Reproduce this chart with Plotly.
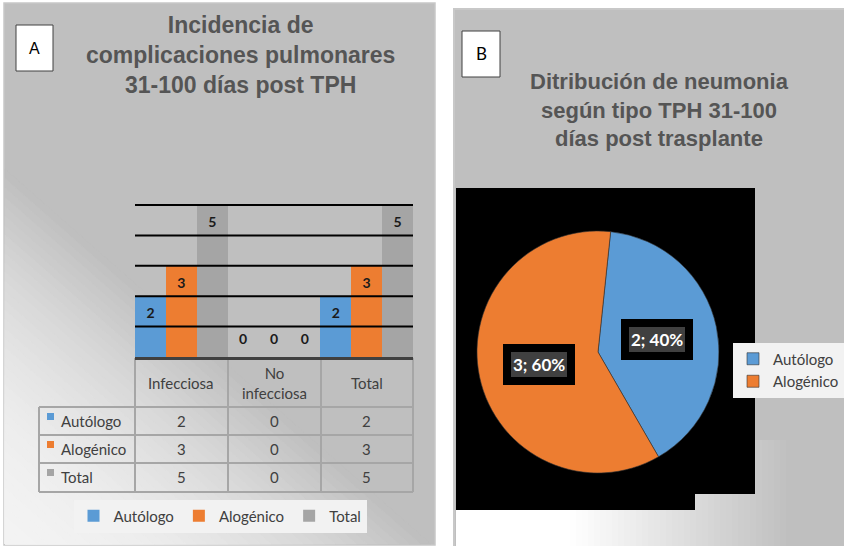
import math
import plotly.graph_objects as go

W, H = 844, 546

# --- Panel A: complicaciones pulmonares 31-100 días post TPH ---
categorias = ["Infecciosa", "No infecciosa", "Total"]
cat_tabla = ["Infecciosa", "No<br>infecciosa", "Total"]
series = ["Autólogo", "Alogénico", "Total"]
autologo = [2, 0, 2]
alogenico = [3, 0, 3]
total = [5, 0, 5]
colores = ["#5b9bd5", "#ed7d31", "#a5a5a5"]

# --- Panel B: neumonía según tipo de TPH ---
tipos_tph = ["Autólogo", "Alogénico"]
neumonia = [2, 3]
colores_pie = ["#5b9bd5", "#ed7d31"]

titulo_a = "Incidencia de<br>complicaciones pulmonares<br>31-100 días post TPH"
titulo_b = "Ditribución de neumonia<br>según tipo TPH 31-100<br>días post trasplante"

valores = [autologo, alogenico, total]


def px(x):
    return x / W


def py(y):
    return 1 - y / H


shapes = []
annotations = []


def rect(x0, y0, x1, y1, fill, line=None, lw=0):
    shapes.append(dict(type="rect", xref="paper", yref="paper", layer="below",
                       x0=px(x0), x1=px(x1), y0=py(y1), y1=py(y0),
                       fillcolor=fill, line=dict(color=line or fill, width=lw)))


def linea(x0, y0, x1, y1, color="#a6a6a6", width=2):
    shapes.append(dict(type="line", xref="paper", yref="paper", layer="below",
                       x0=px(x0), x1=px(x1), y0=py(y0), y1=py(y1),
                       line=dict(color=color, width=width)))


def texto(txt, x, y, font, xref="paper", xanchor="center", **kw):
    annotations.append(dict(text=txt, x=x, y=py(y), xref=xref, yref="paper", showarrow=False,
                            xanchor=xanchor, yanchor="middle", font=font, **kw))


# fondo panel A con degradado diagonal (esquina inferior izquierda clara)
rect(4, 3, 435, 545, "#bfbfbf", "#c8c8c8", 1.5)
N = 40
for k in range(N, 0, -1):
    s = k / N
    g = round(243 - 52 * s ** 2)
    x1 = 5 + 426 * s
    y1 = 544 - 375 * s
    shapes.append(dict(type="path", xref="paper", yref="paper", layer="below",
                       path=f"M {px(5)},{py(544)} L {px(5)},{py(y1)} L {px(x1)},{py(544)} Z",
                       fillcolor=f"rgb({g},{g},{g})", line=dict(color=f"rgb({g},{g},{g})", width=0.5)))

# fondo panel B, degradado horizontal abajo
rect(454, 9, 848, 550, "#bfbfbf", "#c8c8c8", 2)
for x in range(456, 844, 6):
    t = min(max((x + 3 - 570) / (790 - 570), 0), 1)
    g = round(255 - 64 * t)
    rect(x, 440, x + 6.5, 546, f"rgb({g},{g},{g})")
shapes.append(dict(type="path", xref="paper", yref="paper", layer="below",
                   path=(f"M {px(456)},{py(188)} L {px(755)},{py(188)} L {px(755)},{py(494)} "
                         f"L {px(695)},{py(494)} L {px(695)},{py(510)} L {px(456)},{py(510)} Z"),
                   fillcolor="black", line=dict(width=0)))

# cajas A y B
rect(16, 25, 53, 71, "white", "#404040", 1)
rect(462, 31, 500, 77, "white", "#404040", 1)
texto("A", px(34.5), 48, dict(family="Liberation Sans", size=16, color="black"))
texto("B", px(481), 54, dict(family="Lato", size=17, color="black"))

# títulos
texto(titulo_a, px(241), 55, dict(family="Liberation Sans", size=23, color="#555555", weight="bold"))
texto(titulo_b, px(659), 110, dict(family="Liberation Sans", size=22, color="#555555", weight="bold"))

# tabla de datos bajo las barras
filas_y = [421, 449, 477]
for yy in [407, 435, 463, 492]:
    linea(39, yy, 413, yy)
linea(135, 358, 413, 358)
linea(39, 407, 39, 492)
for xx in [135, 228, 321, 413]:
    linea(xx, 358, xx, 492)

fuente_tabla = dict(family="Lato", size=15, color="#404040")
for j, c in enumerate(categorias):
    texto(cat_tabla[j], c, 383, fuente_tabla, xref="x")
for i, nombre in enumerate(series):
    fy = filas_y[i]
    rect(47, fy - 8, 54, fy - 1, colores[i])
    texto(nombre, px(59), fy, fuente_tabla, xanchor="left")
    for j, c in enumerate(categorias):
        texto(str(valores[i][j]), c, fy, fuente_tabla, xref="x")

# líneas de cuadrícula por encima de las barras
for v in range(1, max(total) + 1):
    shapes.append(dict(type="line", xref="x domain", yref="y", layer="above",
                       x0=0, x1=1, y0=v, y1=v, line=dict(color="black", width=2)))

fig = go.Figure()

for i, nombre in enumerate(series):
    fig.add_trace(go.Bar(x=categorias, y=valores[i], name=nombre, marker_color=colores[i],
                         marker_line_width=0, legend="legend", hoverinfo="skip"))
for i, nombre in enumerate(series):
    fig.add_trace(go.Scatter(x=categorias, y=[v - 0.6 if v > 0 else 0.55 for v in valores[i]],
                             text=[str(v) for v in valores[i]], mode="text", showlegend=False,
                             textfont=dict(family="Lato", size=14, color="#1a1a1a", weight="bold"),
                             hoverinfo="skip"))

# pastel
pie_x = [477, 719]
pie_y = [231, 473]
fig.add_trace(go.Pie(labels=tipos_tph, values=neumonia, sort=False, direction="clockwise", rotation=6,
                     marker=dict(colors=colores_pie, line=dict(color="#333333", width=0.6)),
                     textinfo="none", hoverinfo="skip", legend="legend2",
                     domain=dict(x=[px(pie_x[0]), px(pie_x[1])], y=[py(pie_y[1]), py(pie_y[0])])))

cx, cy = (pie_x[0] + pie_x[1]) / 2, (pie_y[0] + pie_y[1]) / 2
R = (pie_x[1] - pie_x[0]) / 2
tot = sum(neumonia)
ang = 6
for v in neumonia:
    mid = math.radians(ang + 180 * v / tot)
    ang += 360 * v / tot
    lx = cx + 0.5 * R * math.sin(mid)
    ly = cy - 0.5 * R * math.cos(mid)
    texto(f"{v}; {round(100 * v / tot)}%", px(lx), ly,
          dict(family="Lato", size=17, color="white", weight="bold"),
          bgcolor="#404040", bordercolor="black", borderwidth=8, borderpad=2)

fig.update_layout(
    width=W, height=H,
    margin=dict(l=0, r=0, t=0, b=0),
    paper_bgcolor="white",
    plot_bgcolor="rgba(0,0,0,0)",
    barmode="group", bargap=0, bargroupgap=0,
    scattermode="group", scattergap=0,
    shapes=shapes,
    annotations=annotations,
    showlegend=True,
    legend=dict(orientation="h", x=px(220), xanchor="center", y=py(516), yanchor="middle",
                bgcolor="#f2f2f2", font=dict(family="Lato", size=15, color="#404040")),
    legend2=dict(orientation="v", x=1, xanchor="right", y=py(370), yanchor="middle",
                 bgcolor="#f2f2f2", font=dict(family="Lato", size=15, color="#404040")),
    xaxis=dict(domain=[px(135), px(413)], type="category", showticklabels=False, showgrid=False,
               showline=True, linecolor="#404040", linewidth=3, ticks="", fixedrange=True),
    yaxis=dict(domain=[py(357), py(357 - 5.15 * 30.4)], range=[0, 5.15], showgrid=False,
               showticklabels=False, zeroline=False, fixedrange=True),
)

fig.write_html("out.html", config={"displayModeBar": False},
               post_script="document.body.style.margin='0';")
